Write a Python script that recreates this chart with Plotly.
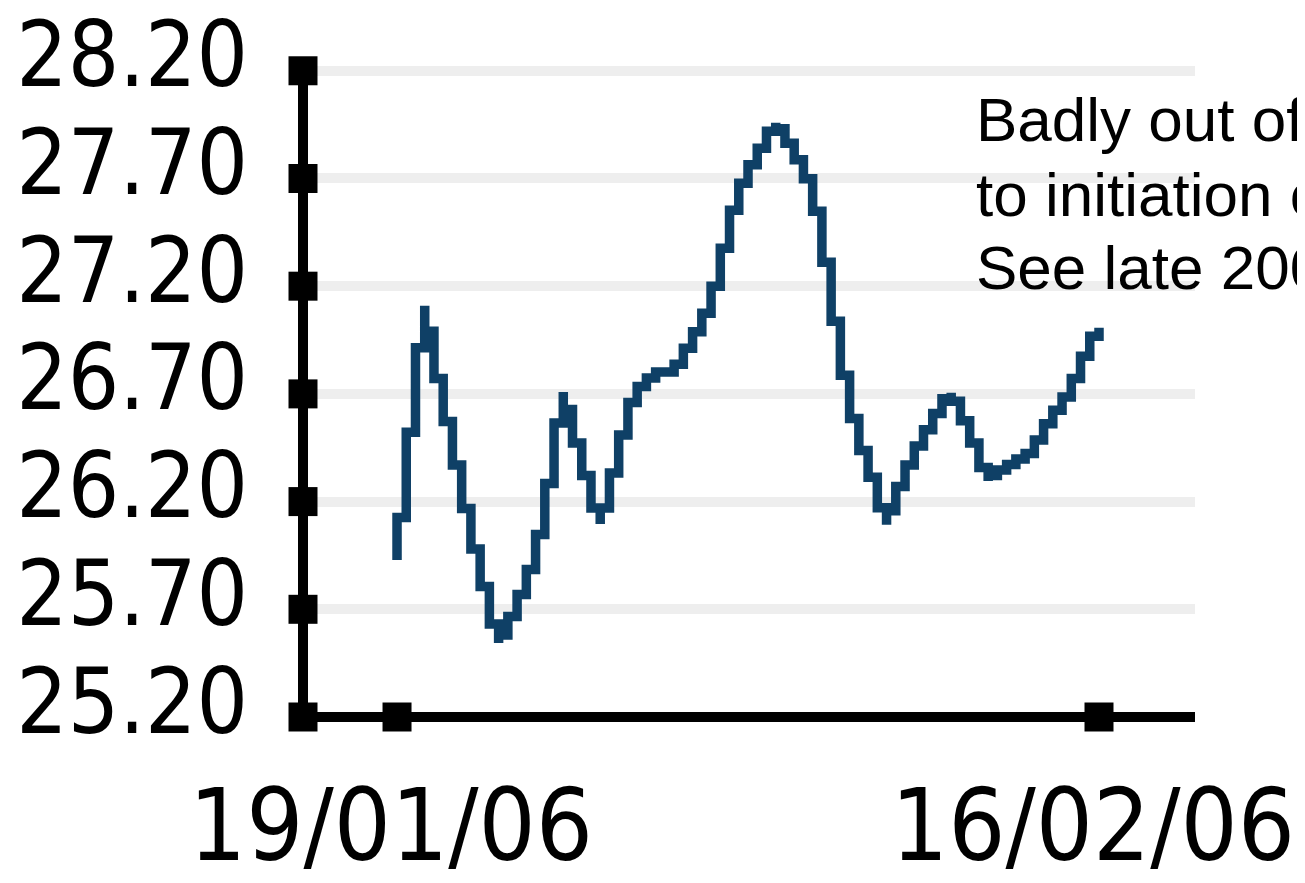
import plotly.graph_objects as go
import pandas as pd

# ---- data ----
values = [
    25.929, 26.324, 26.719, 27.109, 26.872, 26.672, 26.472, 26.268, 26.068, 25.892,
    25.720, 25.544, 25.618, 25.716, 25.822, 25.948, 26.147, 26.421, 26.709, 26.547,
    26.398, 26.245, 26.096, 26.245, 26.421, 26.598, 26.723, 26.746, 26.802, 26.802,
    26.802, 26.872, 26.951, 27.025, 27.123, 27.276, 27.476, 27.629, 27.726, 27.801,
    27.880, 27.959, 27.903, 27.824, 27.750, 27.647, 27.448, 27.174, 26.900, 26.672,
    26.500, 26.375, 26.250, 26.092, 26.222, 26.319, 26.421, 26.496, 26.570, 26.649,
    26.705, 26.626, 26.524, 26.421, 26.296, 26.347, 26.347, 26.398, 26.398, 26.449,
    26.524, 26.598, 26.649, 26.723, 26.821, 26.928, 27.007,
]
start_date = "2006-01-19"
end_date = "2006-02-16"
dates = pd.date_range(start_date, end_date, periods=len(values))

y_ticks = [25.2, 25.7, 26.2, 26.7, 27.2, 27.7, 28.2]
y_tick_labels = ["25.20", "25.70", "26.20", "26.70", "27.20", "27.70", "28.20"]
x_ticks = ["2006-01-19", "2006-02-16"]
x_tick_labels = ["19/01/06", "16/02/06"]
x_range = ["2006-01-15 06:00", "2006-02-19 19:54"]
y_range = [25.2, 28.25]
y_axis_min, y_axis_max = 25.2, 28.2

note_lines = ["Badly out of line due", "to initiation of trend.", "See late 2005"]
note_y = [0.9097, 0.7955, 0.6836]

LINE_COLOR = "#0f4066"
TICK_FONT = "DejaVu Sans Condensed, DejaVu Sans, sans-serif"

fig = go.Figure()

fig.add_trace(go.Scatter(
    x=dates, y=values, mode="lines",
    line=dict(color=LINE_COLOR, width=9.5, shape="vhv"),
    hoverinfo="skip", showlegend=False,
))

# square tick markers on the axes
fig.add_trace(go.Scatter(
    x=[x_range[0]] * len(y_ticks), y=y_ticks, mode="markers",
    marker=dict(symbol="square", size=29, color="black"),
    cliponaxis=False, hoverinfo="skip", showlegend=False,
))
fig.add_trace(go.Scatter(
    x=x_ticks, y=[y_axis_min] * len(x_ticks), mode="markers",
    marker=dict(symbol="square", size=29, color="black"),
    cliponaxis=False, hoverinfo="skip", showlegend=False,
))

# axis lines
fig.add_shape(type="line", xref="paper", yref="y", x0=0, x1=0,
              y0=y_axis_min, y1=y_axis_max, line=dict(color="black", width=10))
fig.add_shape(type="line", xref="paper", yref="paper", x0=0, x1=1,
              y0=0, y1=0, line=dict(color="black", width=10))

for txt, yy in zip(note_lines, note_y):
    fig.add_annotation(
        text=txt, xref="paper", yref="paper", x=0.752, y=yy,
        xanchor="left", yanchor="middle", showarrow=False,
        font=dict(family="Liberation Sans, Arial, sans-serif", size=62, color="black"),
    )

fig.update_layout(
    template="none",
    width=1297, height=875, autosize=False,
    margin=dict(l=295, r=110, t=52.2, b=166, pad=0),
    paper_bgcolor="white", plot_bgcolor="white",
    showlegend=False,
    xaxis=dict(
        type="date", range=x_range, tickmode="array",
        tickvals=x_ticks, ticktext=x_tick_labels,
        showgrid=False, zeroline=False, showline=False, ticks="",
        tickfont=dict(family=TICK_FONT, size=100, color="black"),
        ticklabelstandoff=42, ticklabelshift=-6, automargin=False,
        ticklabeloverflow="allow",
    ),
    yaxis=dict(
        range=y_range, tickmode="array",
        tickvals=y_ticks, ticktext=y_tick_labels,
        showgrid=True, gridcolor="#eeeeee", gridwidth=10,
        zeroline=False, showline=False, ticks="",
        tickfont=dict(family=TICK_FONT, size=90, color="black"),
        ticklabelstandoff=54, ticklabelshift=-16, automargin=False,
        ticklabeloverflow="allow",
    ),
)

fig.write_html("out.html")
